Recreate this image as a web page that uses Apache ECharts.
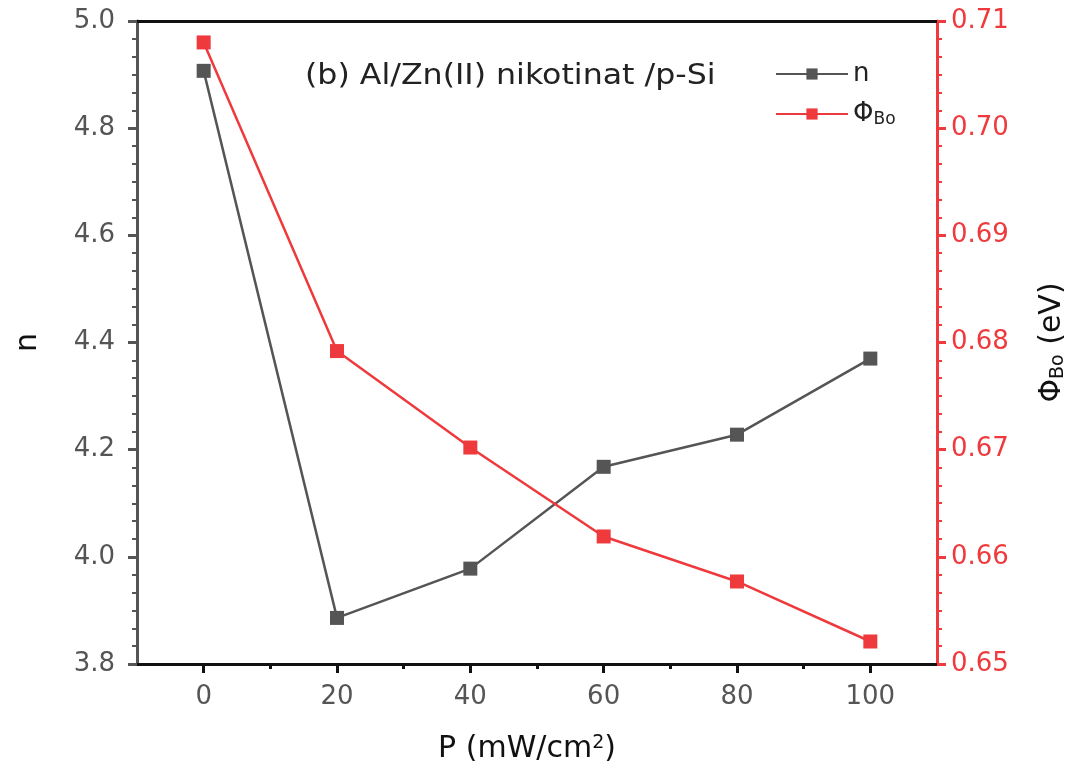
<!DOCTYPE html>
<html>
<head>
<meta charset="utf-8">
<script src="https://cdn.jsdelivr.net/npm/echarts@6/dist/echarts.min.js"></script>
<style>html,body{margin:0;padding:0;background:#fff}#c{width:1077px;height:778px}</style>
</head>
<body>
<div id="c"></div>
<script>
const pValues = [0, 20, 40, 60, 80, 100];
const pMinorTicks = [10, 30, 50, 70, 90];
const nValues = [4.907, 3.886, 3.978, 4.168, 4.228, 4.370];
const phiValues = [0.7080, 0.6792, 0.6702, 0.6619, 0.6577, 0.6521];
const titleText = '(b) Al/Zn(II) nikotinat /p-Si';

const GRAY = '#555555';
const RED = '#ee3a3d';
const FONT = '"DejaVu Sans", sans-serif';

const chart = echarts.init(document.getElementById('c'));
chart.setOption({
  animation: false,
  backgroundColor: '#fff',
  grid: { left: 137, right: 140, top: 21, bottom: 114 },
  graphic: [{
    type: 'text', x: 305, y: 63, scaleX: 1.13,
    style: { text: titleText, font: '28px ' + FONT, fill: '#222' }
  }],
  legend: {
    orient: 'vertical', left: 770, top: 56, itemWidth: 72, itemHeight: 14, itemGap: 14,
    data: ['n', 'phi'],
    formatter: function (name) { return name === 'phi' ? '{a|Φ}{s|Bo}' : '{a|n}'; },
    textStyle: {
      fontFamily: FONT, fontSize: 26, color: '#222',
      rich: {
        a: { fontFamily: FONT, fontSize: 26, color: '#222' },
        s: { fontFamily: FONT, fontSize: 17, color: '#222', verticalAlign: 'bottom', padding: [12, 0, 0, 0] }
      }
    }
  },
  xAxis: [{
    type: 'value', min: -10, max: 110, interval: 10,
    axisLine: { onZero: false, lineStyle: { color: '#111', width: 3 } },
    axisTick: { customValues: pValues, length: 9, lineStyle: { color: '#111', width: 3 } },
    splitLine: { show: false },
    axisLabel: { customValues: pValues, fontFamily: FONT, fontSize: 26, color: GRAY, margin: 20 },
    name: '{a|P (mW/cm}{s|2}{a|)}', nameLocation: 'middle', nameGap: 70,
    nameTextStyle: {
      padding: [0, 20, 0, 0],
      rich: {
        a: { fontFamily: FONT, fontSize: 30, color: '#111' },
        s: { fontFamily: FONT, fontSize: 19, color: '#111', verticalAlign: 'top', padding: [0, 0, 12, 0] }
      }
    }
  }, {
    type: 'value', position: 'bottom', min: -10, max: 110, interval: 10,
    axisLine: { show: false, onZero: false },
    axisTick: { customValues: pMinorTicks, length: 5, lineStyle: { color: '#111', width: 3 } },
    axisLabel: { show: false }, splitLine: { show: false }
  }, {
    type: 'value', position: 'top', min: -10, max: 110,
    axisLine: { onZero: false, lineStyle: { color: '#111', width: 3 } },
    axisTick: { show: false }, axisLabel: { show: false }, splitLine: { show: false }
  }],
  yAxis: [{
    type: 'value', min: 3.8, max: 5.0, interval: 0.2,
    axisLine: { show: true, onZero: false, lineStyle: { color: GRAY, width: 3 } },
    axisTick: { show: true, length: 9, lineStyle: { color: GRAY, width: 3 } },
    minorTick: { show: true, splitNumber: 6, length: 5, lineStyle: { color: GRAY, width: 2 } },
    splitLine: { show: false },
    axisLabel: { fontFamily: FONT, fontSize: 26, color: GRAY, margin: 22, formatter: v => v.toFixed(1) },
    name: 'n', nameLocation: 'middle', nameGap: 94, nameRotate: 90,
    nameTextStyle: { fontFamily: FONT, fontSize: 30, color: '#111' }
  }, {
    type: 'value', position: 'right', min: 0.65, max: 0.71, interval: 0.01,
    axisLine: { show: true, onZero: false, lineStyle: { color: RED, width: 3 } },
    axisTick: { show: true, length: 9, lineStyle: { color: RED, width: 3 } },
    minorTick: { show: true, splitNumber: 6, length: 5, lineStyle: { color: RED, width: 2 } },
    splitLine: { show: false },
    axisLabel: { fontFamily: FONT, fontSize: 26, color: RED, margin: 14, formatter: v => v.toFixed(2) },
    name: '{a|Φ}{s|Bo}{a| (eV)}', nameLocation: 'middle', nameGap: 100, nameRotate: 90,
    nameTextStyle: {
      rich: {
        a: { fontFamily: FONT, fontSize: 30, color: '#111' },
        s: { fontFamily: FONT, fontSize: 19, color: '#111', verticalAlign: 'bottom', padding: [12, 0, 0, 0] }
      }
    }
  }],
  series: [{
    name: 'n', type: 'line', xAxisIndex: 0, yAxisIndex: 0,
    data: pValues.map((p, i) => [p, nValues[i]]),
    symbol: 'rect', symbolSize: 14,
    lineStyle: { color: GRAY, width: 2.5 },
    itemStyle: { color: GRAY }
  }, {
    name: 'phi', type: 'line', xAxisIndex: 0, yAxisIndex: 1,
    data: pValues.map((p, i) => [p, phiValues[i]]),
    symbol: 'rect', symbolSize: 14,
    lineStyle: { color: RED, width: 2.5 },
    itemStyle: { color: RED }
  }]
});
</script>
</body>
</html>
